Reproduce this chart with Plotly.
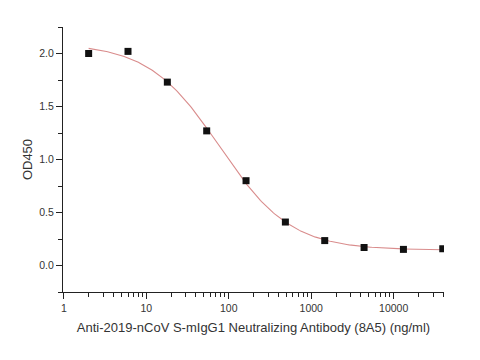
import numpy as np
import plotly.graph_objects as go

# Data (3-fold dilution series)
concentration = [2, 6, 18, 54, 162, 486, 1458, 4374, 13122, 39366]
od450 = [2.00, 2.02, 1.73, 1.27, 0.80, 0.41, 0.235, 0.17, 0.152, 0.158]

x_tickvals = [1, 10, 100, 1000, 10000]
x_ticktext = ["1", "10", "100", "1000", "10000"]
x_minor_tickvals = [m * 10 ** d for d in range(5) for m in range(2, 10) if m * 10 ** d <= 40000]
y_tickvals = [0.0, 0.5, 1.0, 1.5, 2.0]
y_ticktext = ["0.0", "0.5", "1.0", "1.5", "2.0"]
y_minor_tickvals = [-0.25, 0.25, 0.75, 1.25, 1.75, 2.25]

x_title = "Anti-2019-nCoV S-mIgG1 Neutralizing Antibody (8A5) (ng/ml)"
y_title = "OD450"

x_range = [-0.01, 4.61]
y_range = [-0.25, 2.25]

# Four-parameter logistic fit of the data (grid search on EC50/Hill, linear LSQ for top/bottom)
xd = np.array(concentration, dtype=float)
yd = np.array(od450, dtype=float)
best = None
for lec in np.linspace(1.0, 3.0, 201):
    for h in np.linspace(0.5, 2.5, 201):
        f = 1.0 / (1.0 + (xd / 10 ** lec) ** h)
        A = np.column_stack([f, 1 - f])
        coef, *_ = np.linalg.lstsq(A, yd, rcond=None)
        err = np.sum((A @ coef - yd) ** 2)
        if best is None or err < best[0]:
            best = (err, lec, h, coef)
_, lec, h, (top, bottom) = best
xc = np.logspace(np.log10(xd.min()), np.log10(xd.max()), 300)
yc = bottom + (top - bottom) / (1.0 + (xc / 10 ** lec) ** h)

fig = go.Figure()
fig.add_trace(go.Scatter(x=xc, y=yc, mode="lines",
                         line=dict(color="#d98c8c", width=1.1),
                         hoverinfo="skip", showlegend=False))
fig.add_trace(go.Scatter(x=concentration, y=od450, mode="markers",
                         marker=dict(symbol="square", size=7, color="#111111"),
                         showlegend=False))

font_family = "Liberation Sans, Arial, sans-serif"
axis_common = dict(showline=True, linecolor="#222222", linewidth=1.2,
                   ticks="outside", tickcolor="#222222", tickwidth=1.2,
                   showgrid=False, zeroline=False, automargin=False,
                   tickfont=dict(family=font_family, size=10.5, color="#333333"),
                   title_font=dict(family=font_family, size=13, color="#333333"))

fig.update_layout(
    xaxis=dict(type="log", range=x_range, tickmode="array",
               tickvals=x_tickvals, ticktext=x_ticktext, ticklen=6,
               minor=dict(ticks="outside", ticklen=4, tickwidth=1.2, tickcolor="#222222",
                          tickmode="array", tickvals=x_minor_tickvals),
               title=dict(text=x_title, standoff=10), **axis_common),
    yaxis=dict(range=y_range, tickmode="array",
               tickvals=y_tickvals, ticktext=y_ticktext, ticklen=6,
               minor=dict(ticks="outside", ticklen=4, tickwidth=1.2, tickcolor="#222222",
                          tickmode="array", tickvals=y_minor_tickvals),
               title=dict(text=y_title, standoff=3), **axis_common),
    width=480, height=360, plot_bgcolor="white", paper_bgcolor="white",
    margin=dict(l=63, r=36, t=27, b=68),
)

fig.write_html("out.html", config={"displayModeBar": False},
               post_script="document.body.style.margin='0';document.body.style.padding='0';")
